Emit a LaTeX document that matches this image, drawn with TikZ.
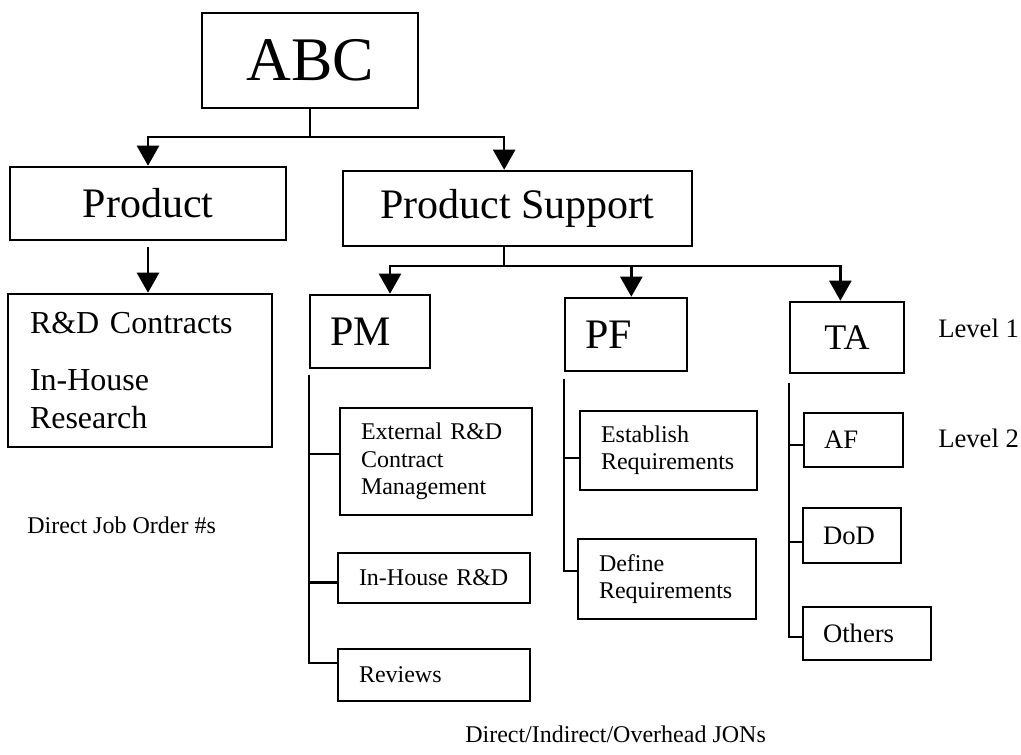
\documentclass[tikz,border=0pt]{standalone}
\usepackage{fontspec}
\setmainfont{Liberation Serif}
\usetikzlibrary{arrows.meta}
\newcommand{\topsize}{\fontsize{46.5}{52}\selectfont}
\newcommand{\midsize}{\fontsize{31.5}{36}\selectfont}
\newcommand{\tasize}{\fontsize{27}{31}\selectfont}
\newcommand{\rdsize}{\fontsize{24}{28.5}\selectfont}
\newcommand{\subsize}{\fontsize{18}{20.5}\selectfont}
\newcommand{\tasubsize}{\fontsize{20}{24}\selectfont}

\begin{document}
\begin{tikzpicture}[x=0.75pt,y=-0.75pt]
    \useasboundingbox (0,0) rectangle (1021,755);
    \begin{scope}[every node/.style={draw,line width=1.9pt,inner sep=0pt},
        leftbox/.style={align=left,inner xsep=15.75pt}]
        \node[font=\topsize,minimum width=162pt,minimum height=71.25pt] (ABC) at (310,60.5) {ABC};
        \node[font=\midsize,minimum width=207pt,minimum height=54.75pt] (Product) at (148,203.5) {Product};
        \node[font=\midsize,minimum width=261.75pt,minimum height=56.25pt] (PS) at (517.5,208.5) {Product Support};
        \node[leftbox,font=\rdsize,inner xsep=16.5pt,text width=165pt,minimum height=114.75pt] (RD) at (140,370.5) {R\&D Contracts\\[14pt]In-House\\Research};

        \node[leftbox,font=\midsize,inner xsep=15pt,text width=60pt,minimum height=54.75pt] (PM) at (370,331.5) {PM};
        \node[leftbox,font=\midsize,inner xsep=15pt,text width=61.5pt,minimum height=54.75pt] (PF) at (626,334.5) {PF};
        \node[font=\tasize,minimum width=85.5pt,minimum height=53.25pt] (TA) at (847,337.5) {TA};

        \node[leftbox,font=\subsize,text width=112.5pt,minimum height=80.25pt] (Ext) at (436,461.5) {External R\&D\\Contract\\Management};
        \node[leftbox,font=\subsize,text width=112.5pt,minimum height=37.5pt] (InH) at (434,578) {In-House R\&D};
        \node[leftbox,font=\subsize,text width=112.5pt,minimum height=39pt] (Rev) at (434,675) {Reviews};

        \node[leftbox,font=\subsize,text width=101.25pt,minimum height=59.25pt] (Est) at (668.5,450.5) {Establish\\Requirements};
        \node[leftbox,font=\subsize,text width=102pt,minimum height=60pt] (Def) at (667,579) {Define\\Requirements};

        \node[leftbox,font=\tasubsize,inner xsep=15pt,text width=44.25pt,minimum height=40.5pt] (AF) at (853.5,440) {AF};
        \node[leftbox,font=\tasubsize,inner xsep=15pt,text width=43.5pt,minimum height=41.25pt] (DoD) at (852,535.5) {DoD};
        \node[leftbox,font=\tasubsize,inner xsep=15pt,text width=66pt,minimum height=39.75pt] (Oth) at (867,633.5) {Others};
    \end{scope}

    \node[font=\tasubsize,anchor=base west,inner sep=0pt] (lev1) at (938,338) {Level 1};
    \node[font=\tasubsize,anchor=base west,inner sep=0pt] (lev2) at (938,448) {Level 2};
    \node[font=\subsize,anchor=base west,inner sep=0pt] (djo) at (27,533) {Direct Job Order \#s};
    \node[font=\subsize,anchor=base west,inner sep=0pt] (jon) at (465,742) {Direct/Indirect/Overhead JONs};

    \begin{scope}[line width=1.8pt,>={Triangle[length=15pt,width=16.5pt]}]
        \draw[->] (ABC.south) -- ++(0,28) -| (Product.north);
        \draw[->] (ABC.south) -- ++(0,28) -| ([xshift=-10pt]PS.north);
        \draw[->] ([yshift=-4.5pt]Product.south) -- (Product.south |- RD.north);

        \draw ([xshift=-10pt]PS.south) -- ++(0,19) coordinate (psbar);
        \draw[->] (psbar) -| ([xshift=15pt]PM.north);
        \draw[->] (psbar) -| ([xshift=4pt]PF.north);
        \draw[->] (psbar) -| ([xshift=-5pt]TA.north);

        % level 2 trunks
        \draw ([yshift=-4.5pt]PM.south west) |- ([yshift=5.5pt]Ext.west);
        \draw ([yshift=-4.5pt]PM.south west) |- ([yshift=-3.5pt]InH.west);
        \draw ([yshift=-4.5pt]PM.south west) |- ([yshift=9pt]Rev.west);

        \draw ([yshift=-5pt]PF.south west) |- ([yshift=-5.5pt]Est.west);
        \draw ([yshift=-5pt]PF.south west) |- ([yshift=6pt]Def.west);

        \draw ([yshift=-6.5pt]TA.south west) |- ([yshift=-3.75pt]AF.west);
        \draw ([yshift=-6.5pt]TA.south west) |- ([yshift=-5pt]DoD.west);
        \draw ([yshift=-6.5pt]TA.south west) |- ([yshift=-2.5pt]Oth.west);
    \end{scope}
\end{tikzpicture}
\end{document}
